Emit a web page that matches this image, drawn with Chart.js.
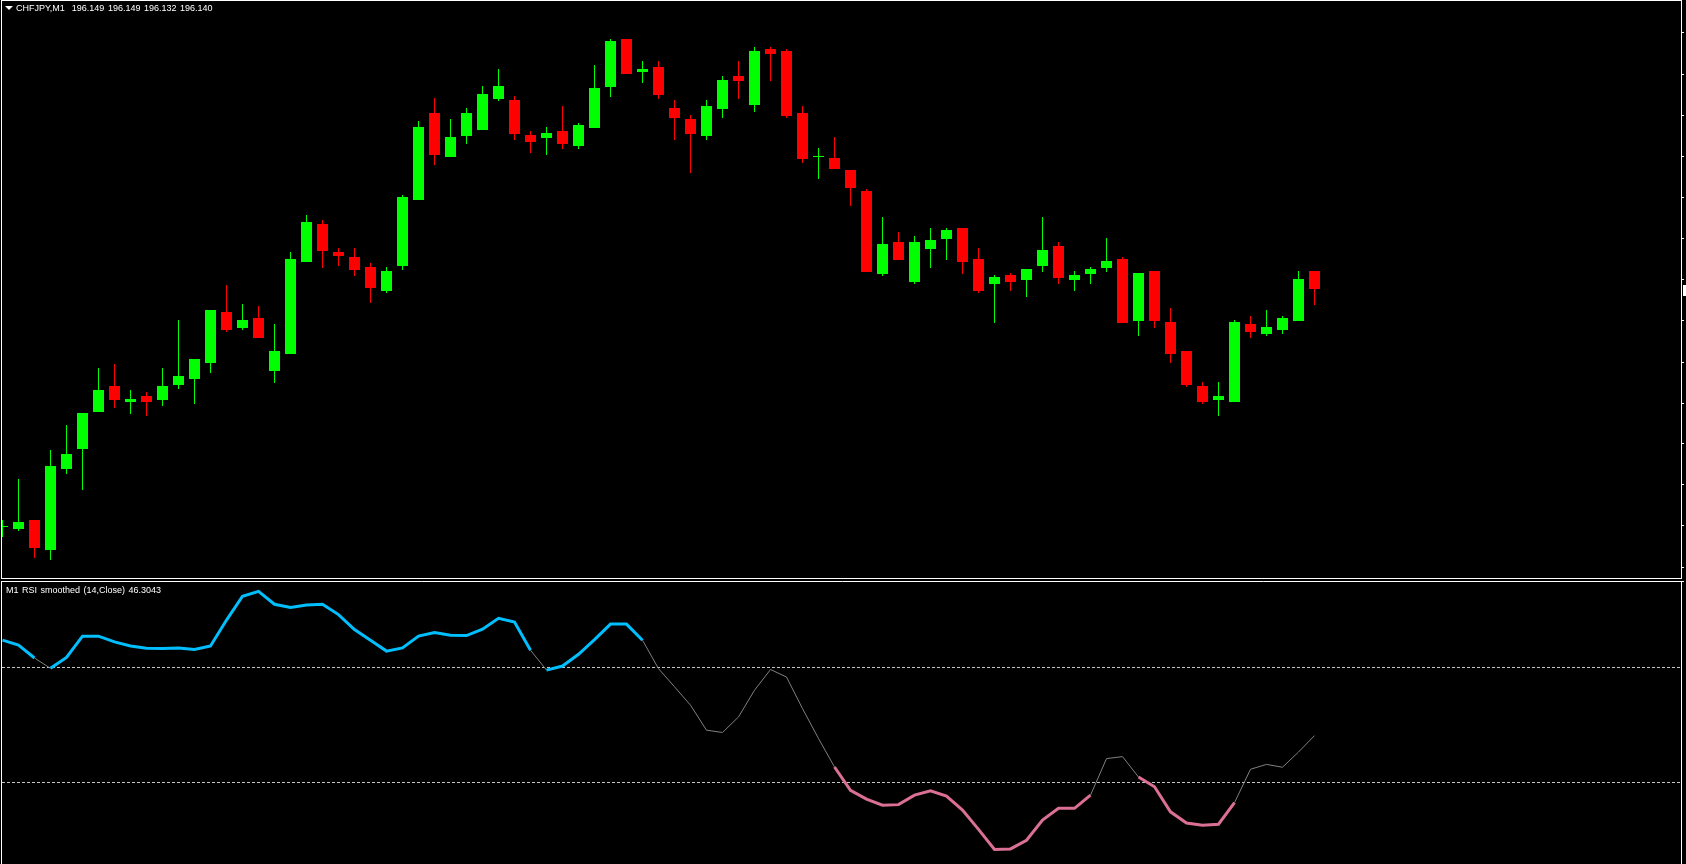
<!DOCTYPE html>
<html>
<head>
<meta charset="utf-8">
<title>CHFJPY,M1</title>
<script src="https://cdn.jsdelivr.net/npm/chart.js@4.4.1/dist/chart.umd.min.js"></script>
<style>
  html, body { margin: 0; padding: 0; background: #000; overflow: hidden; }
  #wrap { position: relative; width: 1686px; height: 864px; background: #000; }
  canvas { position: absolute; left: 0; }
  #mainChart { top: 0; }
  #rsiChart { top: 580px; }
  .caption { position: absolute; color: #fff; font-family: "Liberation Sans", Arial, sans-serif; font-size: 9px; line-height: 9px; white-space: pre; word-spacing: 1px; }
  #symbolCaption { left: 16px; top: 3.5px; }
  #rsiCaption { left: 6px; top: 585.5px; }
  #menuArrow { position: absolute; left: 5px; top: 6px; width: 0; height: 0; border-left: 4px solid transparent; border-right: 4px solid transparent; border-top: 4px solid #fff; }
</style>
</head>
<body>
<div id="wrap">
  <canvas id="mainChart" width="1686" height="580"></canvas>
  <canvas id="rsiChart" width="1686" height="284"></canvas>
  <div id="menuArrow"></div>
  <div class="caption" id="symbolCaption"></div>
  <div class="caption" id="rsiCaption"></div>
</div>
<script>
const symbol = 'CHFJPY';
const timeframe = 'M1';

// one entry per M1 bar, oldest first
const opens = [
  196.0210, 196.0200, 196.0245, 196.0095, 196.0500, 196.0600, 196.0785, 196.0915, 196.0835, 196.0865,
  196.0845, 196.0920, 196.0950, 196.1030, 196.1285, 196.1205, 196.1255, 196.0990, 196.1075, 196.1535,
  196.1725, 196.1585, 196.1560, 196.1510, 196.1390, 196.1515, 196.1845, 196.2280, 196.2060, 196.2165,
  196.2195, 196.2350, 196.2345, 196.2170, 196.2155, 196.2190, 196.2115, 196.2205, 196.2410, 196.2650,
  196.2485, 196.2510, 196.2305, 196.2250, 196.2165, 196.2300, 196.2465, 196.2320, 196.2600, 196.2590,
  196.2280, 196.2060, 196.2055, 196.1995, 196.1890, 196.1475, 196.1635, 196.1435, 196.1600, 196.1650,
  196.1705, 196.1550, 196.1425, 196.1470, 196.1445, 196.1515, 196.1615, 196.1445, 196.1475, 196.1505,
  196.1550, 196.1240, 196.1490, 196.1235, 196.1090, 196.0915, 196.0845, 196.0835, 196.1225, 196.1175,
  196.1195, 196.1240, 196.149
];
const highs = [
  196.0245, 196.0450, 196.0245, 196.0595, 196.0720, 196.0780, 196.1005, 196.1025, 196.0895, 196.0885,
  196.1005, 196.1245, 196.1050, 196.1295, 196.1420, 196.1325, 196.1315, 196.1225, 196.1585, 196.1770,
  196.1745, 196.1605, 196.1605, 196.1530, 196.1510, 196.1870, 196.2240, 196.2355, 196.2250, 196.2305,
  196.2415, 196.2500, 196.2365, 196.2190, 196.2210, 196.2315, 196.2230, 196.2520, 196.2650, 196.2650,
  196.2540, 196.2540, 196.2345, 196.2270, 196.2345, 196.2465, 196.2540, 196.2610, 196.2610, 196.2600,
  196.2315, 196.2105, 196.2160, 196.1995, 196.1900, 196.1760, 196.1685, 196.1665, 196.1705, 196.1705,
  196.1705, 196.1605, 196.1470, 196.1480, 196.1500, 196.1760, 196.1635, 196.1490, 196.1510, 196.1655,
  196.1560, 196.1480, 196.1490, 196.1305, 196.1090, 196.0935, 196.0935, 196.1245, 196.1265, 196.1295,
  196.1265, 196.1490, 196.149
];
const lows = [
  196.0160, 196.0190, 196.0055, 196.0045, 196.0475, 196.0395, 196.0785, 196.0805, 196.0775, 196.0765,
  196.0815, 196.0900, 196.0825, 196.0980, 196.1185, 196.1195, 196.1155, 196.0930, 196.1075, 196.1535,
  196.1505, 196.1515, 196.1465, 196.1330, 196.1380, 196.1495, 196.1845, 196.2020, 196.2060, 196.2125,
  196.2195, 196.2340, 196.2145, 196.2080, 196.2070, 196.2100, 196.2100, 196.2205, 196.2360, 196.2475,
  196.2430, 196.2350, 196.2145, 196.1980, 196.2145, 196.2255, 196.2350, 196.2285, 196.2440, 196.2255,
  196.2030, 196.1950, 196.2000, 196.1815, 196.1485, 196.1465, 196.1545, 196.1425, 196.1505, 196.1545,
  196.1475, 196.1380, 196.1230, 196.1390, 196.1360, 196.1485, 196.1425, 196.1390, 196.1425, 196.1485,
  196.1230, 196.1165, 196.1205, 196.1030, 196.0910, 196.0825, 196.0765, 196.0835, 196.1155, 196.1165,
  196.1175, 196.1240, 196.132
];
const closes = [
  196.0215, 196.0235, 196.0105, 196.0515, 196.0575, 196.0780, 196.0895, 196.0845, 196.0850, 196.0835,
  196.0915, 196.0965, 196.1050, 196.1295, 196.1195, 196.1245, 196.1155, 196.1090, 196.1550, 196.1735,
  196.1590, 196.1565, 196.1495, 196.1405, 196.1490, 196.1860, 196.2210, 196.2070, 196.2160, 196.2280,
  196.2375, 196.2415, 196.2175, 196.2135, 196.2180, 196.2125, 196.2220, 196.2405, 196.2640, 196.2475,
  196.2500, 196.2370, 196.2255, 196.2175, 196.2315, 196.2445, 196.2440, 196.2590, 196.2575, 196.2265,
  196.2050, 196.2065, 196.2000, 196.1905, 196.1485, 196.1625, 196.1545, 196.1635, 196.1645, 196.1695,
  196.1535, 196.1390, 196.1460, 196.1435, 196.1500, 196.1595, 196.1455, 196.1470, 196.1500, 196.1540,
  196.1230, 196.1480, 196.1240, 196.1075, 196.0920, 196.0835, 196.0865, 196.1235, 196.1185, 196.1210,
  196.1255, 196.1450, 196.140
];

// RSI smoothed (14, Close)
const rsiValues = [
  79.5, 77.8, 73.3, 69.7, 73.5, 80.9, 80.9, 78.9, 77.5, 76.7,
  76.6, 76.8, 76.3, 77.5, 86.5, 94.8, 96.5, 92.0, 90.9, 91.7,
  92.0, 88.4, 83.2, 79.5, 75.7, 76.8, 80.9, 82.2, 81.2, 81.1,
  83.3, 87.1, 85.8, 76.0, 69.1, 70.5, 74.6, 79.7, 85.1, 85.1,
  79.5, 69.6, 63.3, 56.9, 48.2, 47.4, 52.8, 62.1, 69.3, 66.7,
  55.7, 45.3, 35.4, 27.3, 24.2, 22.1, 22.3, 25.6, 27.1, 25.3,
  20.4, 13.7, 6.7, 6.9, 9.9, 16.9, 21.0, 21.0, 25.6, 38.3,
  39.0, 31.9, 28.5, 19.8, 15.9, 15.1, 15.5, 23.0, 34.6, 36.3,
  35.3, 40.6, 46.3043
];
const rsiLevels = [70, 30];

// price scale tick marks (labels fall outside the window)
const priceTicks = [
  196.2682, 196.2473, 196.2268, 196.2063, 196.1857, 196.1652, 196.1449,
  196.1243, 196.1034, 196.0829, 196.0625, 196.0420, 196.0215, 196.0009
];

const barIndex = opens.map((o, i) => i);
const last = opens.length - 1;

// visible window of bars, and of the two vertical scales
const xMin = -0.03125, xMax = 104.90625;
const priceMin = 195.9955, priceMax = 196.284;
const rsiMin = 1.652, rsiMax = 100.087;

const bullColor = '#00FF00';
const bearColor = '#FF0000';
const candleColor = (i) => closes[i] >= opens[i] ? bullColor : bearColor;

document.getElementById('symbolCaption').textContent =
  symbol + ',' + timeframe + '  ' +
  [opens[last], highs[last], lows[last], closes[last]].map(v => v.toFixed(3)).join(' ');
document.getElementById('rsiCaption').textContent =
  timeframe + ' RSI smoothed (14,Close) ' + rsiValues[last].toFixed(4);

Chart.defaults.animation = false;
Chart.defaults.plugins.legend.display = false;
Chart.defaults.plugins.tooltip.enabled = false;

const mainFrame = {
  id: 'mainFrame',
  afterDraw(chart) {
    const ctx = chart.ctx;
    ctx.save();
    ctx.strokeStyle = '#FFFFFF';
    ctx.lineWidth = 1;
    ctx.strokeRect(1.5, 0.5, 1680, 578);
    // current price marker on the price scale
    const y = Math.round(chart.scales.y.getPixelForValue(closes[last]));
    ctx.fillStyle = '#FFFFFF';
    ctx.fillRect(1683, y - 4, 3, 11);
    ctx.restore();
  }
};

const rsiFrame = {
  id: 'rsiFrame',
  afterDraw(chart) {
    const ctx = chart.ctx;
    ctx.save();
    ctx.strokeStyle = '#FFFFFF';
    ctx.lineWidth = 1;
    ctx.beginPath();
    ctx.moveTo(1, 1.5); ctx.lineTo(1684, 1.5);
    ctx.moveTo(1.5, 1); ctx.lineTo(1.5, 284);
    ctx.moveTo(1681.5, 1); ctx.lineTo(1681.5, 284);
    ctx.stroke();
    ctx.restore();
  }
};

new Chart(document.getElementById('mainChart'), {
  type: 'bar',
  data: {
    datasets: [
      {
        label: 'body',
        data: barIndex.map(i => ({ x: i, y: [opens[i], closes[i]] })),
        backgroundColor: ctx => candleColor(ctx.dataIndex),
        barThickness: 11,
        grouped: false,
        inflateAmount: 0,
        borderWidth: 0,
        minBarLength: 1,
        order: 1
      },
      {
        label: 'wick',
        data: barIndex.map(i => ({ x: i, y: [lows[i], highs[i]] })),
        backgroundColor: ctx => candleColor(ctx.dataIndex),
        barThickness: 1,
        grouped: false,
        inflateAmount: 0,
        borderWidth: 0,
        order: 2
      }
    ]
  },
  options: {
    responsive: false,
    devicePixelRatio: 1,
    layout: { padding: { left: 2, top: 1, right: 0, bottom: 2 } },
    scales: {
      x: { type: 'linear', display: false, min: xMin, max: xMax, offset: false },
      y: {
        position: 'right',
        min: priceMin,
        max: priceMax,
        afterBuildTicks: axis => { axis.ticks = priceTicks.map(v => ({ value: v })); },
        afterFit: axis => { axis.width = 5; },
        grid: { drawOnChartArea: false, drawTicks: true, tickLength: 3, color: '#FFFFFF' },
        border: { display: false },
        ticks: { display: false }
      }
    }
  },
  plugins: [mainFrame]
});

new Chart(document.getElementById('rsiChart'), {
  type: 'line',
  data: {
    datasets: [
      {
        label: 'RSI',
        data: barIndex.map(i => ({ x: i, y: rsiValues[i] })),
        borderColor: '#808080',
        borderWidth: 1,
        pointRadius: 0,
        tension: 0,
        order: 1,
        segment: {
          borderColor: ctx => ctx.p1.parsed.y >= 70 ? '#00BFFF' : (ctx.p1.parsed.y <= 30 ? '#DB7093' : '#808080'),
          borderWidth: ctx => (ctx.p1.parsed.y >= 70 || ctx.p1.parsed.y <= 30) ? 3 : 1
        }
      },
      ...rsiLevels.map(level => ({
        label: 'level ' + level,
        data: [{ x: xMin, y: level }, { x: xMax, y: level }],
        borderColor: '#C8C8C8',
        borderWidth: 1,
        borderDash: [3, 2],
        pointRadius: 0,
        order: 2
      }))
    ]
  },
  options: {
    responsive: false,
    devicePixelRatio: 1,
    layout: { padding: { left: 2, top: 1, right: 5, bottom: 0 } },
    scales: {
      x: { type: 'linear', display: false, min: xMin, max: xMax },
      y: { display: false, min: rsiMin, max: rsiMax }
    }
  },
  plugins: [rsiFrame]
});
</script>
</body>
</html>
